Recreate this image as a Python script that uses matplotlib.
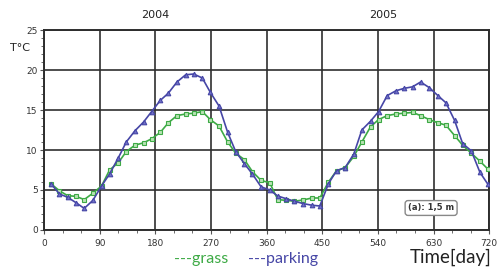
import numpy as np
import matplotlib
matplotlib.use("Agg")
import matplotlib.pyplot as plt
from matplotlib.ticker import MultipleLocator

# sampling days (about every two weeks over two years)
days = [11, 25, 38, 52, 65, 79, 93, 106, 120, 133, 147, 161, 174, 188,
        201, 215, 229, 242, 256, 269, 283, 297, 310, 324, 337, 351, 365,
        378, 392, 405, 419, 433, 446, 460, 473, 487, 501, 514, 528, 541,
        555, 569, 582, 596, 609, 623, 637, 650, 664, 677, 691, 705, 718]

# soil temperature at 1.5 m, degrees C
parking = [5.8, 4.5, 4.1, 3.4, 2.7, 3.7, 5.5, 7.0, 9.0, 11.0, 12.4, 13.5,
           14.8, 16.2, 17.1, 18.5, 19.4, 19.5, 19.0, 17.2, 15.5, 12.2, 9.8,
           8.3, 7.0, 5.4, 5.0, 4.25, 3.9, 3.6, 3.3, 3.1, 3.0, 5.8, 7.4, 7.8,
           9.5, 12.5, 13.6, 14.8, 16.8, 17.4, 17.7, 17.9, 18.5, 17.8, 16.8,
           15.9, 13.7, 10.8, 9.9, 7.2, 5.7]
grass = [5.8, 4.9, 4.3, 4.2, 3.8, 4.6, 5.5, 7.5, 8.4, 9.8, 10.6, 10.9,
         11.4, 12.2, 13.4, 14.3, 14.5, 14.6, 14.8, 13.8, 13.0, 11.0, 9.6,
         8.8, 7.3, 6.2, 5.9, 3.8, 3.7, 3.6, 3.75, 4.0, 4.0, 6.0, 7.4, 7.8,
         9.2, 11.0, 12.9, 13.8, 14.3, 14.5, 14.6, 14.7, 14.3, 13.8, 13.4,
         13.1, 11.8, 10.6, 9.6, 8.6, 7.6]

years = ["2004", "2005"]
year_mid = [180, 548]

blue = "#4646a6"
green = "#3daa45"

fig = plt.figure(figsize=(4.98, 2.67), dpi=100)
ax = fig.add_axes([0.0884, 0.1386, 0.894, 0.749])

ax.plot(days, grass, color=green, lw=1.2, marker="s", ms=3.2,
        mfc="#b9e3b5", mec=green, mew=0.8, zorder=3)
ax.plot(days, parking, color=blue, lw=1.2, marker="^", ms=3.3,
        mfc="#7070c8", mec=blue, mew=0.8, zorder=4)

ax.set_xlim(0, 720)
ax.set_ylim(0, 25)
ax.xaxis.set_major_locator(MultipleLocator(90))
ax.xaxis.set_minor_locator(MultipleLocator(30))
ax.yaxis.set_major_locator(MultipleLocator(5))
ax.yaxis.set_minor_locator(MultipleLocator(1))
ax.grid(True, which="major", color="#2e2e2e", lw=1.4, alpha=0.85)
ax.tick_params(which="both", direction="out", colors="#555555",
               labelsize=6.5, labelcolor="#333333")
ax.tick_params(axis="x", pad=3.5)
ax.tick_params(axis="y", pad=1.5)
ax.tick_params(which="major", length=3)
ax.tick_params(which="minor", length=2)
for s in ax.spines.values():
    s.set_color("#2e2e2e")
    s.set_linewidth(1.4)

for y, xm in zip(years, year_mid):
    ax.text(xm, 26.3, y, ha="center", va="bottom", fontsize=8,
            color="#222222", family="DejaVu Sans")

fig.text(0.02, 0.81, "T°C", fontsize=8, color="#222222")

ax.text(626, 2.75, "(a): 1,5 m", ha="center", va="center", fontsize=6,
        fontweight="bold", color="#333333",
        bbox=dict(boxstyle="round,pad=0.35", fc="white", ec="#888888", lw=1))

fig.text(0.35, 0.015, "---grass", color=green, fontsize=11.5, family="Lato")
fig.text(0.497, 0.015, "---parking", color=blue, fontsize=11.5, family="Lato")
fig.text(0.822, 0.015, "Time[day]", color="#222222", fontsize=13.5,
         family="Lato")

fig.savefig("out.png", dpi=100)
